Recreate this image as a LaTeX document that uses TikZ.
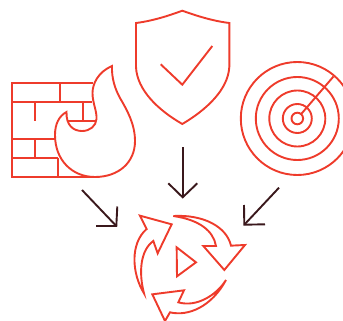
\documentclass[tikz,border=0pt]{standalone}
\definecolor{iconred}{HTML}{EE3B2B}
\definecolor{arrowdark}{HTML}{3A181C}
\tikzset{icon/.style={draw=iconred,line width=1.9pt,line join=miter},
  wall/.style={draw=iconred,line width=2.1pt},
  flowarrow/.style={draw=arrowdark,line width=1.9pt}}
\begin{document}
\begin{tikzpicture}[x=1pt,y=-1pt]
\useasboundingbox (0,0) rectangle (343,321);
\clip (0,0) rectangle (343,321);
% firewall wall
\draw[wall] (93,83) -- (12,83) -- (12,177) -- (96,177);
\draw[wall] (12,102) -- (92,102);
\draw[wall] (60,83) -- (60,102);
\draw[wall] (35,102) -- (35,120.7);
\draw[wall] (83,102) -- (83,120.7);
\draw[wall] (67,120.7) -- (96,120.7);
\draw[wall] (12,139) -- (55,139);
\draw[wall] (12,158.3) -- (58,158.3);
\draw[wall] (35,139) -- (35,158.3);
\draw[wall] (58,158.3) -- (58,177);
% flame
\draw[icon] (112,66)
  .. controls (98,72) and (92.5,84) .. (92.5,93)
  .. controls (92.5,103) and (97,111) .. (96.5,119)
  .. controls (96,126) and (90,131) .. (82,131)
  .. controls (73,131) and (66,125) .. (66.5,112)
  .. controls (59,116) and (55,124) .. (55,135)
  .. controls (55,160) and (72,177) .. (95,177)
  .. controls (118,177) and (135,163) .. (135,141)
  .. controls (135,124) and (127,110) .. (120,98)
  .. controls (115,89) and (111.5,78) .. (112,66) -- cycle;
% shield
\draw[icon] (182.3,10.7)
  .. controls (168,16) and (152,21) .. (136,23)
  -- (136,67)
  .. controls (137,90) and (158,110) .. (182.3,124)
  .. controls (206,110) and (228,90) .. (229.3,67)
  -- (229.3,23)
  .. controls (213,21) and (197,16) .. (182.3,10.7) -- cycle;
\draw[icon] (160.7,64.3) -- (182.3,84.7) -- (212.3,46);
% radar
\coordinate (radar) at (297.3,118.5);
\foreach \r in {56.5,41.5,28,14.5,5.8}{
  \draw[icon] (radar) circle (\r pt);
}
\coordinate (radarend) at (333.5,76.5);
\draw[icon] (radar) ++(3.8,-4.4) -- (radarend);
% flow arrows
\coordinate (la) at (82,190); \coordinate (lb) at (116.3,226);
\coordinate (lc) at (117.3,206.5); \coordinate (ld) at (96,226);
\draw[flowarrow] (la) -- (lb);
\draw[flowarrow] (lc) -- (lb) -- (ld);
\coordinate (ma) at (182.7,147.3); \coordinate (mb) at (182.7,197.3);
\coordinate (mc) at (168.3,183.3); \coordinate (md) at (197.3,183.3);
\draw[flowarrow] (ma) -- (mb);
\draw[flowarrow] (mc) -- (mb) -- (md);
\coordinate (ra) at (279,187.7); \coordinate (rb) at (244.3,224.7);
\coordinate (rc) at (244,205); \coordinate (rd) at (265,224.3);
\draw[flowarrow] (ra) -- (rb);
\draw[flowarrow] (rc) -- (rb) -- (rd);
% recycle arrows
\begin{scope}[shift={(120,205)},x=0.3333pt,y=-0.3333pt]
\draw[icon] (60,32) -- (155,58) -- (113,145) -- (100,108)
  .. controls (62,135) and (55,200) .. (72,265)
  .. controls (35,205) and (30,115) .. (80,72) -- cycle;
\draw[icon] (160,33)
  .. controls (250,28) and (320,65) .. (333,122)
  -- (375,120) -- (313,195) -- (250,123) -- (288,123)
  .. controls (280,78) and (240,45) .. (160,33) -- cycle;
\draw[icon] (318,225)
  .. controls (275,305) and (205,335) .. (150,322)
  -- (135,348) -- (97,268) -- (192,256) -- (175,292)
  .. controls (230,308) and (290,270) .. (318,225) -- cycle;
\draw[icon] (170,127) -- (228,172) -- (171,214) -- cycle;
\end{scope}
\end{tikzpicture}
\end{document}
